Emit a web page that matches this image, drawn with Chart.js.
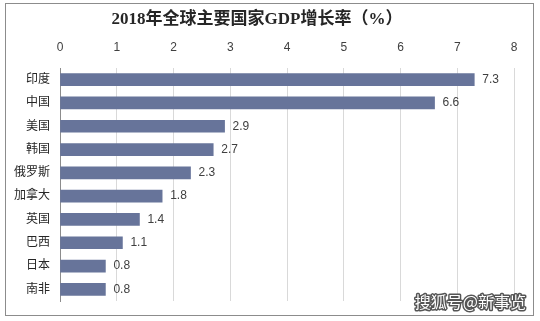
<!DOCTYPE html>
<html>
<head>
<meta charset="utf-8">
<script src="https://cdn.jsdelivr.net/npm/chart.js@4.4.1/dist/chart.umd.min.js"></script>
<style>
  html, body { margin: 0; padding: 0; background: #fff; }
  #wrap { width: 540px; height: 321px; position: relative; }
</style>
</head>
<body>
<div id="wrap"><canvas id="myChart" width="540" height="321"></canvas></div>
<script>
const countries = ['印度', '中国', '美国', '韩国', '俄罗斯', '加拿大', '英国', '巴西', '日本', '南非'];
const growth = [7.3, 6.6, 2.9, 2.7, 2.3, 1.8, 1.4, 1.1, 0.8, 0.8];
const xTicks = [0, 1, 2, 3, 4, 5, 6, 7, 8];

const titleText = '2018年全球主要国家GDP增长率（%）';
const watermark = '搜狐号@新事览';

const cjk = '"Liberation Sans", Arial, "Noto Sans CJK SC", sans-serif';

// frame, title, value labels and watermark
const decor = {
    id: 'decor',
    beforeDraw(chart) {
        const c = chart.ctx;
        c.save();
        c.fillStyle = '#fff';
        c.fillRect(0, 0, chart.width, chart.height);
        c.strokeStyle = '#8c8c8c';
        c.lineWidth = 1;
        c.strokeRect(5.5, 3.5, 528, 312);
        c.restore();
    },
    afterDatasetsDraw(chart) {
        const c = chart.ctx;
        const meta = chart.getDatasetMeta(0);
        c.save();
        c.font = '12px ' + cjk;
        c.fillStyle = '#404040';
        c.textBaseline = 'middle';
        c.textAlign = 'left';
        meta.data.forEach((bar, i) => {
            c.fillText(growth[i].toFixed(1), bar.x + 8, bar.y);
        });
        c.restore();
    },
    afterDraw(chart) {
        const c = chart.ctx;
        c.save();
        c.font = 'bold 17px "Liberation Serif", "Noto Sans CJK SC", serif';
        c.fillStyle = '#262626';
        c.textAlign = 'center';
        c.textBaseline = 'middle';
        c.fillText(titleText, 257, 20);

        c.font = '16px "Noto Sans CJK SC", sans-serif';
        c.textAlign = 'right';
        c.lineJoin = 'round';
        c.lineWidth = 3;
        c.strokeStyle = '#555';
        c.strokeText(watermark, 526, 302);
        c.fillStyle = '#fff';
        c.fillText(watermark, 526, 302);
        c.restore();
    }
};

let ctx = document.getElementById('myChart').getContext('2d');

let massChart = new Chart(ctx, {
    type: 'bar',
    data: {
        labels: countries,
        datasets: [{
            data: growth,
            backgroundColor: '#67749a',
            barThickness: 12
        }]
    },
    options: {
        indexAxis: 'y',
        responsive: false,
        animation: false,
        events: [],
        plugins: {
            legend: { display: false },
            tooltip: { enabled: false },
            title: { display: false }
        },
        layout: {
            padding: { left: 0, right: 26, top: 33, bottom: 20 }
        },
        scales: {
            x: {
                position: 'top',
                min: 0,
                max: 8,
                afterBuildTicks(scale) {
                    scale.ticks = xTicks.map(v => ({ value: v }));
                },
                afterFit(scale) { scale.height = 35; },
                grid: { color: '#d9d9d9', drawTicks: false },
                border: { display: false },
                ticks: {
                    padding: 13,
                    color: '#404040',
                    font: { size: 12, family: cjk }
                }
            },
            y: {
                afterFit(scale) { scale.width = 60; },
                grid: { display: false, drawTicks: false },
                border: { display: true, color: '#8c8c8c' },
                ticks: {
                    padding: 10,
                    color: '#262626',
                    font: { size: 12, family: cjk }
                }
            }
        }
    },
    plugins: [decor]
});
</script>
</body>
</html>
